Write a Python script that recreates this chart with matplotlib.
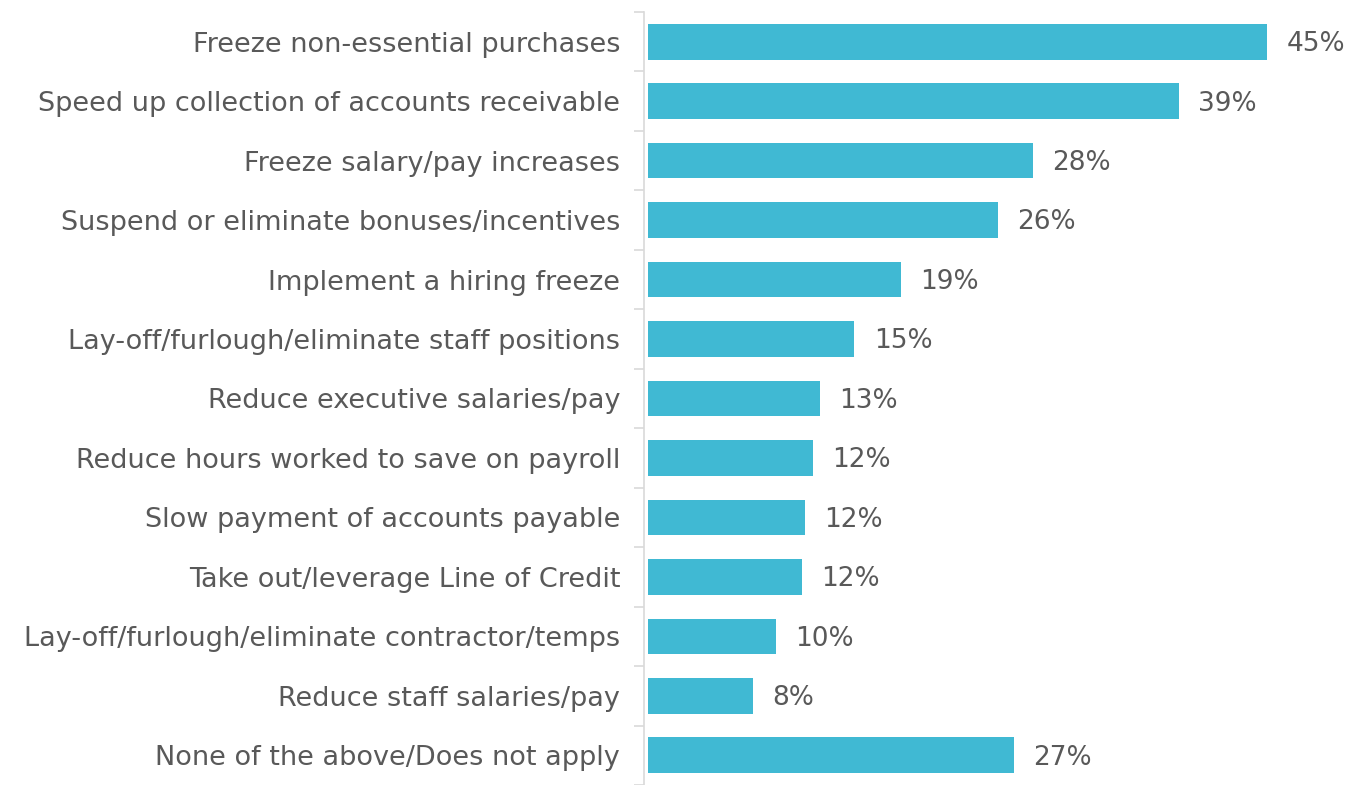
import matplotlib.pyplot as plt
import numpy as np

categories = [
    "Freeze non-essential purchases",
    "Speed up collection of accounts receivable",
    "Freeze salary/pay increases",
    "Suspend or eliminate bonuses/incentives",
    "Implement a hiring freeze",
    "Lay-off/furlough/eliminate staff positions",
    "Reduce executive salaries/pay",
    "Reduce hours worked to save on payroll",
    "Slow payment of accounts payable",
    "Take out/leverage Line of Credit",
    "Lay-off/furlough/eliminate contractor/temps",
    "Reduce staff salaries/pay",
    "None of the above/Does not apply",
]
values = [45.0, 38.6, 28.0, 25.4, 18.4, 15.0, 12.5, 12.0, 11.4, 11.2, 9.3, 7.6, 26.6]
value_labels = ["45%", "39%", "28%", "26%", "19%", "15%", "13%", "12%", "12%", "12%", "10%", "8%", "27%"]

bar_color = "#40B9D3"
text_color = "#595959"

W, H = 1368, 785
fig = plt.figure(figsize=(W / 100, H / 100), dpi=100)
ax = fig.add_axes([648 / W, 0, 720 / W, 1 - 12 / H])

y = np.arange(len(categories))
ax.barh(y, values, height=0.6, color=bar_color)

for yi, v, lab in zip(y, values, value_labels):
    ax.text(v + 1.4, yi + 0.04, lab, va="center", ha="left", fontsize=19, color=text_color)

ax.set_xlim(0, 720 / 13.76)
ax.set_ylim(12 + 26 / 59.75, -0.5)

ax.set_yticks(y)
ax.set_yticklabels(categories)
ax.set_yticks(np.arange(-0.5, len(categories), 1), minor=True)
ax.tick_params(axis="y", which="major", length=0, pad=17, labelsize=19.5, labelcolor=text_color)
ax.tick_params(axis="y", which="minor", length=7, width=1.2, color="#d9d9d9")
ax.set_xticks([])

for s in ["top", "right", "bottom"]:
    ax.spines[s].set_visible(False)
ax.spines["left"].set_color("#d9d9d9")
ax.spines["left"].set_linewidth(1.2)
ax.spines["left"].set_position(("outward", 3))

fig.savefig("out.png", dpi=100)
